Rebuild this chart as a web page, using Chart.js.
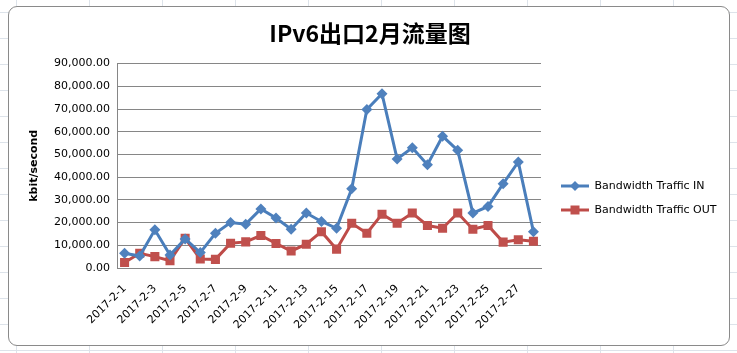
<!DOCTYPE html>
<html>
<head>
<meta charset="utf-8">
<script src="https://cdn.jsdelivr.net/npm/chart.js@4"></script>
<style>
  html, body { margin: 0; padding: 0; }
  body {
    width: 737px; height: 353px; position: relative; overflow: hidden;
    background-color: #fff;
    background-image:
      linear-gradient(to right, #dde3ea 1px, transparent 1px),
      linear-gradient(to bottom, #dde3ea 1px, transparent 1px);
    background-size: 73px 100%, 100% 26px;
    background-position: 16px 0, 0 12px;
  }
  #frame {
    position: absolute; left: 8px; top: 6px; width: 720px; height: 338px;
    border: 1px solid #8a8a8a; border-radius: 9px; background: #fff;
  }
  #wrap { position: absolute; left: 0; top: 0; width: 737px; height: 353px; }
</style>
</head>
<body>
<div id="frame"></div>
<div id="wrap"><canvas id="trafficChart" width="737" height="353"></canvas></div>
<script>
  // Dates of February 2017
  var days = [];
  for (var d = 1; d <= 28; d++) {
    days.push('2017-2-' + d);
  }

  // Traffic values (kbit/second)
  var trafficIn = [6500, 5300, 16800, 5700, 12800, 6800, 15300, 20000, 19300, 26000,
                   22000, 17100, 24200, 20500, 17500, 34900, 69800, 76700, 48000, 52900,
                   45500, 58000, 51800, 24200, 27100, 37100, 46700, 16000];
  var trafficOut = [2400, 6500, 5000, 3200, 13100, 4000, 3800, 10900, 11500, 14300,
                    10800, 7500, 10500, 16000, 8300, 19700, 15300, 23700, 19700, 24200,
                    18700, 17500, 24200, 17100, 18700, 11400, 12400, 11800];

  var blue = '#4a7ebb', blueMark = '#4f81bd';
  var red = '#be4b48', redMark = '#c0504d';

  // Small legend picture: line with the marker in the middle
  function legendIcon(color, markColor, style) {
    var c = document.createElement('canvas');
    c.width = 28; c.height = 12;
    var g = c.getContext('2d');
    g.strokeStyle = color;
    g.lineWidth = 3;
    g.beginPath(); g.moveTo(0, 6); g.lineTo(28, 6); g.stroke();
    g.fillStyle = markColor;
    g.beginPath();
    if (style === 'diamond') {
      g.moveTo(14, 1); g.lineTo(19, 6); g.lineTo(14, 11); g.lineTo(9, 6);
    } else {
      g.rect(9.5, 1.5, 9, 9);
    }
    g.closePath(); g.fill();
    return c;
  }

  // Move the legend to where Excel puts it
  var legendPlace = {
    id: 'legendPlace',
    afterLayout: function (chart) {
      var lg = chart.legend;
      var dx = 7, dy = 29;
      lg.left += dx; lg.right += dx;
      lg.top += dy; lg.bottom += dy;
    }
  };

  var ctx = document.getElementById('trafficChart').getContext('2d');
  var trafficChart = new Chart(ctx, {
    type: 'line',
    data: {
      labels: days,
      datasets: [{
        label: 'Bandwidth Traffic IN',
        data: trafficIn,
        borderColor: blue,
        backgroundColor: blueMark,
        borderWidth: 3,
        pointStyle: 'rectRot',
        pointRadius: 5.5,
        pointBorderWidth: 0,
        tension: 0
      }, {
        label: 'Bandwidth Traffic OUT',
        data: trafficOut,
        borderColor: red,
        backgroundColor: redMark,
        borderWidth: 3,
        pointStyle: 'rect',
        pointRadius: 6.4,
        pointBorderWidth: 0,
        tension: 0
      }]
    },
    options: {
      responsive: false,
      animation: false,
      layout: { padding: { left: 28, right: 25, top: 0, bottom: 15 } },
      plugins: {
        tooltip: { enabled: false },
        title: {
          display: true,
          text: 'IPv6出口2月流量图',
          color: '#000',
          font: { family: '"Noto Sans CJK SC", sans-serif', size: 23, weight: 'bold' },
          padding: { top: 19, bottom: 17 }
        },
        legend: {
          position: 'right',
          labels: {
            usePointStyle: true,
            pointStyleWidth: 28,
            color: '#000',
            padding: 13,
            font: { family: '"DejaVu Sans", sans-serif', size: 11 },
            generateLabels: function (chart) {
              return [
                { text: 'Bandwidth Traffic IN', pointStyle: legendIcon(blue, blueMark, 'diamond'),
                  fillStyle: blueMark, strokeStyle: blue, lineWidth: 0, datasetIndex: 0 },
                { text: 'Bandwidth Traffic OUT', pointStyle: legendIcon(red, redMark, 'square'),
                  fillStyle: redMark, strokeStyle: red, lineWidth: 0, datasetIndex: 1 }
              ];
            }
          }
        }
      },
      scales: {
        x: {
          offset: true,
          grid: { display: false, drawTicks: false },
          border: { color: '#868686', width: 1 },
          ticks: {
            autoSkip: false,
            maxRotation: 45,
            minRotation: 45,
            color: '#000',
            padding: 14,
            font: { family: '"DejaVu Sans", sans-serif', size: 11 },
            callback: function (value, index) {
              return index % 2 === 0 ? days[index] : '';
            }
          },
          afterFit: function (scale) { scale.height = 70; }
        },
        y: {
          min: 0,
          max: 90000,
          grid: { color: '#868686', lineWidth: 1, drawTicks: false },
          border: { color: '#868686', width: 1 },
          ticks: {
            stepSize: 10000,
            color: '#000',
            padding: 7,
            font: { family: '"DejaVu Sans", sans-serif', size: 11 },
            callback: function (v) {
              return v.toLocaleString('en-US', { minimumFractionDigits: 2, maximumFractionDigits: 2 });
            }
          },
          title: {
            display: true,
            text: 'kbit/second',
            color: '#000',
            padding: { top: 0, bottom: 0 },
            font: { family: '"DejaVu Sans", sans-serif', size: 11, weight: 'bold' }
          },
          afterFit: function (scale) { scale.width = 89; }
        }
      }
    },
    plugins: [legendPlace]
  });
</script>
</body>
</html>
